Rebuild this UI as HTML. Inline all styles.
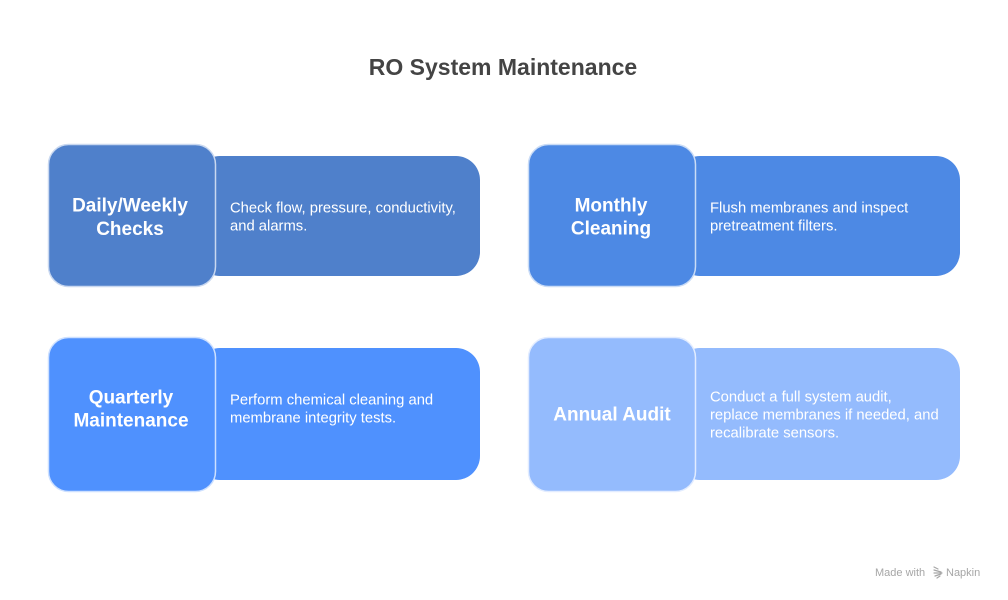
<!DOCTYPE html>
<html>
<head>
<meta charset="utf-8">
<style>
  html, body { margin:0; padding:0; background:#ffffff; }
  body { width:1008px; height:600px; overflow:hidden; }
  svg { display:block; }
  text { font-family: "Liberation Sans", Arial, sans-serif; }
</style>
</head>
<body>
<svg width="1008" height="600" viewBox="0 0 1008 600" xmlns="http://www.w3.org/2000/svg">
  <rect width="1008" height="600" fill="#ffffff"/>

  <text x="503" y="75" text-anchor="middle" font-size="23" font-weight="bold" fill="#444444">RO System Maintenance</text>

  <!-- Row 1, Col 1 -->
  <rect x="196" y="156" width="284" height="120" rx="24" ry="24" fill="#4f80cb"/>
  <rect x="48.5" y="144.5" width="167" height="142" rx="20" ry="20" fill="#4f80cb" stroke="#c9d8f0" stroke-width="1.5"/>
  <text x="130" y="211.7" text-anchor="middle" font-size="19" font-weight="bold" fill="#ffffff">Daily/Weekly</text>
  <text x="130" y="235" text-anchor="middle" font-size="19" font-weight="bold" fill="#ffffff">Checks</text>
  <text x="230" y="212.5" font-size="14.8" fill="#ffffff">Check flow, pressure, conductivity,</text>
  <text x="230" y="230.5" font-size="14.8" fill="#ffffff">and alarms.</text>

  <!-- Row 1, Col 2 -->
  <rect x="676" y="156" width="284" height="120" rx="24" ry="24" fill="#4d89e4"/>
  <rect x="528.5" y="144.5" width="167" height="142" rx="20" ry="20" fill="#4d89e4" stroke="#cadcf6" stroke-width="1.5"/>
  <text x="611" y="211.5" text-anchor="middle" font-size="19" font-weight="bold" fill="#ffffff">Monthly</text>
  <text x="611" y="234.5" text-anchor="middle" font-size="19" font-weight="bold" fill="#ffffff">Cleaning</text>
  <text x="710" y="212.5" font-size="14.8" fill="#ffffff">Flush membranes and inspect</text>
  <text x="710" y="230.5" font-size="14.8" fill="#ffffff">pretreatment filters.</text>

  <!-- Row 2, Col 1 -->
  <rect x="196" y="348" width="284" height="132" rx="24" ry="24" fill="#4f91fe"/>
  <rect x="48.5" y="337.5" width="167" height="154" rx="20" ry="20" fill="#4f91fe" stroke="#cde0ff" stroke-width="1.5"/>
  <text x="131" y="403.3" text-anchor="middle" font-size="19" font-weight="bold" fill="#ffffff">Quarterly</text>
  <text x="131" y="426.7" text-anchor="middle" font-size="19" font-weight="bold" fill="#ffffff">Maintenance</text>
  <text x="230" y="404.3" font-size="14.8" fill="#ffffff">Perform chemical cleaning and</text>
  <text x="230" y="422.3" font-size="14.8" fill="#ffffff">membrane integrity tests.</text>

  <!-- Row 2, Col 2 -->
  <rect x="676" y="348" width="284" height="132" rx="24" ry="24" fill="#94bbfd"/>
  <rect x="528.5" y="337.5" width="167" height="154" rx="20" ry="20" fill="#94bbfd" stroke="#e2ecff" stroke-width="1.5"/>
  <text x="612" y="420.7" text-anchor="middle" font-size="19" font-weight="bold" fill="#ffffff">Annual Audit</text>
  <text x="710" y="401.7" font-size="14.8" fill="#ffffff">Conduct a full system audit,</text>
  <text x="710" y="419.7" font-size="14.8" fill="#ffffff">replace membranes if needed, and</text>
  <text x="710" y="437.7" font-size="14.8" fill="#ffffff">recalibrate sensors.</text>

  <!-- Watermark -->
  <text x="875" y="576" font-size="11" fill="#a6a6a6">Made with</text>
  <g stroke="#a6a6a6" stroke-width="1.2" fill="none" stroke-linecap="round">
    <path d="M934 567 L938 569"/>
    <path d="M934 570 L941 572"/>
    <path d="M934 573 L942 573"/>
    <path d="M935 576 L941 574"/>
    <path d="M937 578 L940 576"/>
  </g>
  <text x="946" y="576" font-size="11" fill="#a6a6a6">Napkin</text>
</svg>
</body>
</html>
